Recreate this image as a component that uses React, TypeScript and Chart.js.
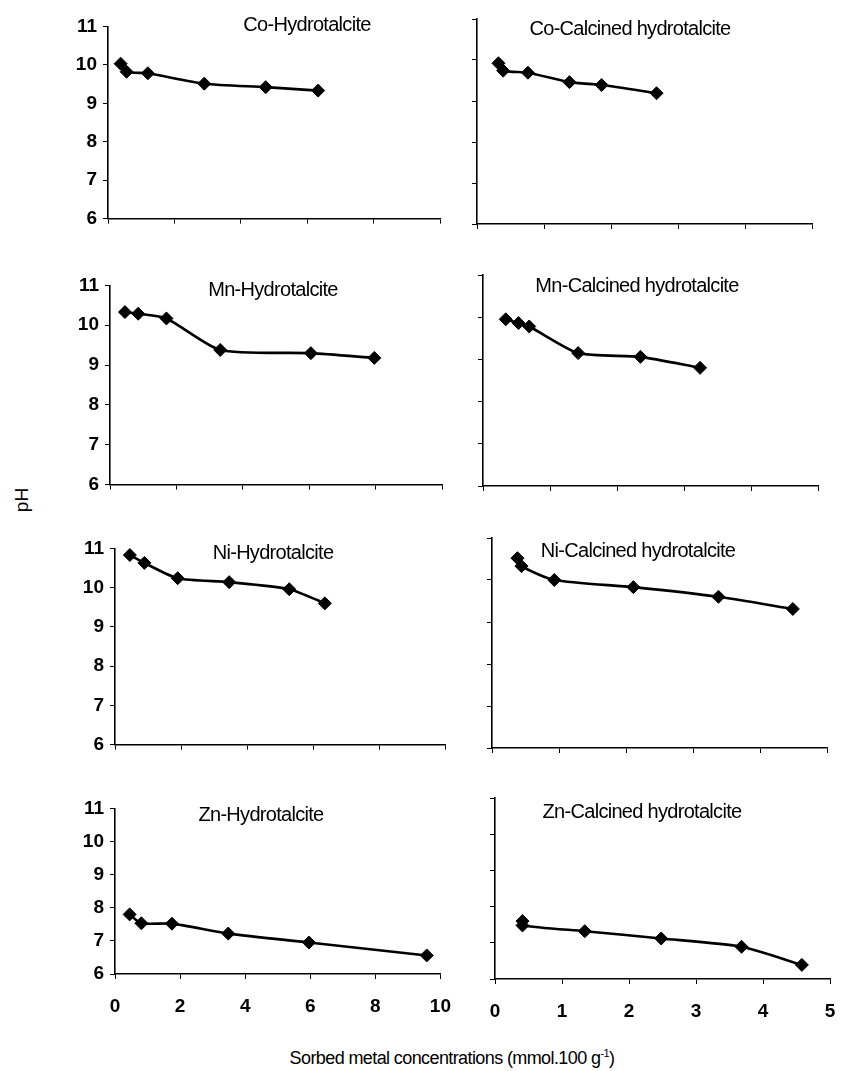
import React, { useEffect, useRef } from "react";
import { Chart, registerables } from "chart.js";

Chart.register(...registerables);

// ---------- data ----------
const yTickValues = [6, 7, 8, 9, 10, 11];
const leftXTickValues = [0, 2, 4, 6, 8, 10];
const rightXTickValues = [0, 1, 2, 3, 4, 5];

const panelTitles = [
  "Co-Hydrotalcite",
  "Co-Calcined hydrotalcite",
  "Mn-Hydrotalcite",
  "Mn-Calcined hydrotalcite",
  "Ni-Hydrotalcite",
  "Ni-Calcined hydrotalcite",
  "Zn-Hydrotalcite",
  "Zn-Calcined hydrotalcite",
];

const yAxisTitle = "pH";
const xAxisTitle = "Sorbed metal concentrations (mmol.100 g";
const xAxisTitleSup = "-1";

const coHydroX = [0.38, 0.56, 1.2, 2.9, 4.75, 6.33];
const coHydroY = [10.03, 9.82, 9.78, 9.51, 9.42, 9.33];
const coCalcX = [0.32, 0.39, 0.76, 1.38, 1.86, 2.68];
const coCalcY = [9.92, 9.74, 9.69, 9.46, 9.39, 9.19];

const mnHydroX = [0.45, 0.85, 1.7, 3.32, 6.05, 7.96];
const mnHydroY = [10.33, 10.29, 10.17, 9.38, 9.3, 9.18];
const mnCalcX = [0.34, 0.53, 0.69, 1.42, 2.35, 3.24];
const mnCalcY = [9.95, 9.86, 9.78, 9.15, 9.06, 8.8];

const niHydroX = [0.45, 0.89, 1.9, 3.46, 5.28, 6.36];
const niHydroY = [10.83, 10.63, 10.24, 10.14, 9.96, 9.6];
const niCalcX = [0.38, 0.44, 0.93, 2.11, 3.38, 4.49];
const niCalcY = [10.52, 10.33, 10.0, 9.83, 9.6, 9.31];

const znHydroX = [0.45, 0.81, 1.75, 3.48, 5.96, 9.58];
const znHydroY = [7.8, 7.53, 7.52, 7.22, 6.95, 6.56];
const znCalcX = [0.41, 0.41, 1.34, 2.48, 3.68, 4.58];
const znCalcY = [7.6, 7.48, 7.32, 7.12, 6.89, 6.39];

// ---------- layout ----------
const FONT = "'Liberation Sans', Arial, sans-serif";
const YW = 64;
const TP = 14;
const RP = 22;

type PanelSpec = {
  title: string;
  xs: number[];
  ys: number[];
  xTicks: number[];
  x0: number;
  w: number;
  top: number;
  bottom: number;
  showY: boolean;
  showX: boolean;
  tx: number;
  ty: number;
};

const panels: PanelSpec[] = [
  { title: panelTitles[0], xs: coHydroX, ys: coHydroY, xTicks: leftXTickValues, x0: 108, w: 332, top: 23, bottom: 222, showY: true, showX: false, tx: 307, ty: 25 },
  { title: panelTitles[1], xs: coCalcX, ys: coCalcY, xTicks: rightXTickValues, x0: 477, w: 335, top: 19, bottom: 224, showY: false, showX: false, tx: 630, ty: 29 },
  { title: panelTitles[2], xs: mnHydroX, ys: mnHydroY, xTicks: leftXTickValues, x0: 110, w: 332, top: 282, bottom: 488, showY: true, showX: false, tx: 273, ty: 290 },
  { title: panelTitles[3], xs: mnCalcX, ys: mnCalcY, xTicks: rightXTickValues, x0: 483, w: 335, top: 275, bottom: 486, showY: false, showX: false, tx: 637, ty: 286 },
  { title: panelTitles[4], xs: niHydroX, ys: niHydroY, xTicks: leftXTickValues, x0: 115, w: 330, top: 545, bottom: 748, showY: true, showX: false, tx: 273, ty: 553 },
  { title: panelTitles[5], xs: niCalcX, ys: niCalcY, xTicks: rightXTickValues, x0: 492, w: 335, top: 538, bottom: 748, showY: false, showX: false, tx: 638, ty: 551 },
  { title: panelTitles[6], xs: znHydroX, ys: znHydroY, xTicks: leftXTickValues, x0: 115, w: 330, top: 805, bottom: 974, showY: true, showX: true, tx: 261, ty: 815 },
  { title: panelTitles[7], xs: znCalcX, ys: znCalcY, xTicks: rightXTickValues, x0: 495, w: 335, top: 798, bottom: 979, showY: false, showX: true, tx: 642, ty: 812 },
];

const panelTitlePlugin = {
  id: "panelTitle",
  afterDraw(chart: any, _args: any, opts: any) {
    const ctx = chart.ctx;
    ctx.save();
    ctx.font = `20px ${FONT}`;
    try {
      (ctx as any).letterSpacing = "-0.7px";
    } catch (e) {}
    ctx.fillStyle = "#000";
    ctx.textAlign = "center";
    ctx.textBaseline = "middle";
    ctx.fillText(opts.text, opts.x, opts.y);
    ctx.restore();
  },
};

function Panel({ spec }: { spec: PanelSpec }) {
  const ref = useRef<HTMLCanvasElement | null>(null);
  const XH = spec.showX ? 62 : 14;
  const left = spec.x0 - YW;
  const topPx = spec.top - TP;
  const width = YW + spec.w + RP;
  const height = TP + (spec.bottom - spec.top) + XH;

  useEffect(() => {
    if (!ref.current) return;
    const xt = spec.xTicks;
    const chart = new Chart(ref.current, {
      type: "scatter",
      data: {
        datasets: [
          {
            data: spec.xs.map((x, i) => ({ x, y: spec.ys[i] })),
            showLine: true,
            borderColor: "#000",
            backgroundColor: "#000",
            borderWidth: 2.6,
            tension: 0.22,
            pointStyle: "rectRot",
            pointRadius: 6.5,
            pointBorderWidth: 1,
            pointBackgroundColor: "#000",
            pointBorderColor: "#000",
            clip: false,
          } as any,
        ],
      },
      options: {
        animation: false,
        responsive: false,
        maintainAspectRatio: false,
        devicePixelRatio: 1,
        layout: { padding: { top: TP, right: RP, left: 0, bottom: 0 } },
        plugins: {
          legend: { display: false },
          tooltip: { enabled: false },
          panelTitle: { text: spec.title, x: spec.tx - left, y: spec.ty - topPx },
        } as any,
        scales: {
          x: {
            type: "linear",
            min: xt[0],
            max: xt[xt.length - 1],
            afterBuildTicks: (s: any) => {
              s.ticks = xt.map((v) => ({ value: v }));
            },
            afterFit: (s: any) => {
              s.height = XH;
            },
            ticks: {
              display: spec.showX,
              color: "#000",
              font: { family: FONT, size: 19, weight: "bold" },
              padding: 16,
              maxRotation: 0,
            },
            grid: {
              drawOnChartArea: false,
              drawTicks: true,
              tickLength: 5,
              color: "#000",
              lineWidth: 1,
            },
            border: { display: true, color: "#000", width: 1.6 },
          },
          y: {
            type: "linear",
            min: yTickValues[0],
            max: yTickValues[yTickValues.length - 1],
            afterBuildTicks: (s: any) => {
              s.ticks = yTickValues.map((v) => ({ value: v }));
            },
            afterFit: (s: any) => {
              s.width = YW;
            },
            ticks: {
              display: spec.showY,
              color: "#000",
              font: { family: FONT, size: 19, weight: "bold" },
              padding: 6,
            },
            grid: {
              drawOnChartArea: false,
              drawTicks: true,
              tickLength: 5,
              color: "#000",
              lineWidth: 1,
            },
            border: { display: true, color: "#000", width: 1.6 },
          },
        },
      },
      plugins: [panelTitlePlugin as any],
    });
    return () => chart.destroy();
  }, []);

  return (
    <canvas
      ref={ref}
      width={width}
      height={height}
      style={{ position: "absolute", left, top: topPx, width, height }}
    />
  );
}

export default function App() {
  return (
    <div
      style={{
        position: "absolute",
        left: 0,
        top: 0,
        width: 841,
        height: 1071,
        background: "#fff",
        overflow: "hidden",
      }}
    >
      {panels.map((p, i) => (
        <Panel key={i} spec={p} />
      ))}
      <div
        style={{
          position: "absolute",
          left: 22,
          top: 500,
          transform: "translate(-50%, -50%) rotate(-90deg)",
          fontFamily: FONT,
          fontSize: 19,
          color: "#000",
          whiteSpace: "nowrap",
        }}
      >
        {yAxisTitle}
      </div>
      <div
        style={{
          position: "absolute",
          left: 452,
          top: 1058,
          transform: "translate(-50%, -50%)",
          fontFamily: FONT,
          fontSize: 18,
          letterSpacing: "-0.6px",
          color: "#000",
          whiteSpace: "nowrap",
        }}
      >
        {xAxisTitle}
        <sup style={{ fontSize: 11 }}>{xAxisTitleSup}</sup>)
      </div>
    </div>
  );
}
